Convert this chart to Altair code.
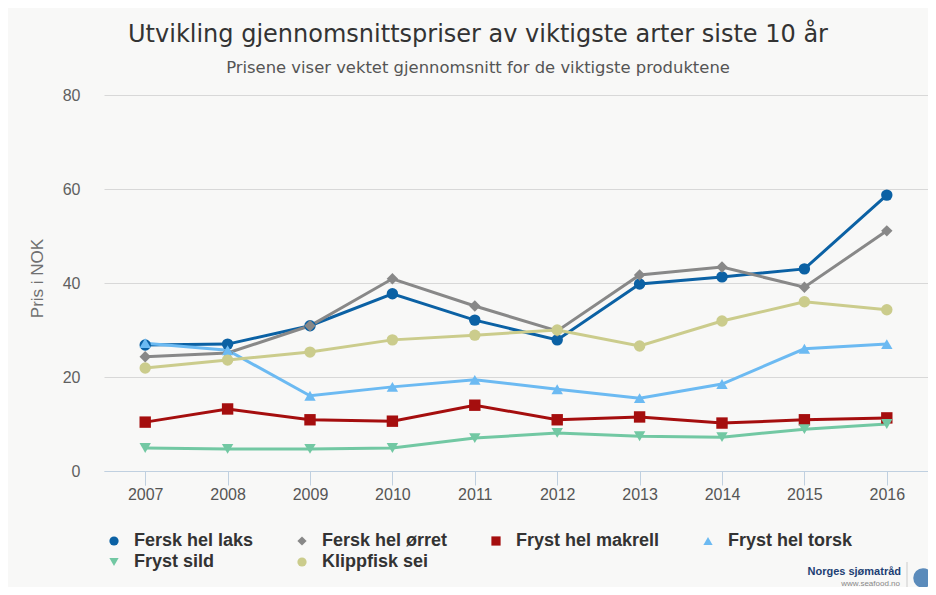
import altair as alt
import pandas as pd

years = ["2007", "2008", "2009", "2010", "2011", "2012", "2013", "2014", "2015", "2016"]
series_names = ["Fersk hel laks", "Fersk hel ørret", "Fryst hel makrell",
                "Fryst hel torsk", "Fryst sild", "Klippfisk sei"]
laks = [26.8, 27.0, 30.9, 37.7, 32.1, 27.9, 39.8, 41.3, 43.0, 58.7]
orret = [24.3, 25.1, 30.9, 40.9, 35.1, 29.8, 41.7, 43.4, 39.1, 51.1]
makrell = [10.4, 13.2, 10.9, 10.6, 14.0, 10.9, 11.5, 10.2, 10.9, 11.3]
torsk = [27.2, 25.7, 16.0, 17.9, 19.4, 17.4, 15.5, 18.5, 26.0, 27.0]
sild = [4.9, 4.7, 4.7, 4.9, 7.0, 8.1, 7.4, 7.2, 8.9, 10.0]
klippfisk = [21.9, 23.6, 25.3, 27.9, 28.9, 30.0, 26.6, 31.9, 36.0, 34.3]

colors = ["#0b61a4", "#888888", "#a50e0e", "#6cbaf2", "#72c8a3", "#cbcc8c"]
shapes = ["circle", "diamond", "square", "triangle-up", "triangle-down", "circle"]

all_vals = [laks, orret, makrell, torsk, sild, klippfisk]
rows = []
for i, (name, vals) in enumerate(zip(series_names, all_vals)):
    for y, v in zip(years, vals):
        rows.append({"year": y, "price": v, "series": name, "order": i})
df = pd.DataFrame(rows)

FONT = "Liberation Sans"
TFONT = "DejaVu Sans"

legend = alt.Legend(title=None, orient="none", legendX=1, legendY=437,
                    direction="horizontal", columns=4, columnPadding=39, rowPadding=3,
                    labelFont=FONT, labelFontSize=18, labelFontWeight="bold",
                    labelColor="#333333", symbolSize=85, labelOffset=11,
                    symbolStrokeWidth=0, symbolOpacity=1)

x_enc = alt.X("year:N", sort=years, title=None,
              scale=alt.Scale(type="point", padding=0.5),
              axis=alt.Axis(tickBand="extent", labelAngle=0, grid=False,
                            domainColor="#c0d0e0", tickColor="#c0d0e0",
                            tickSize=14, labelPadding=1, labelFontSize=16,
                            labelColor="#555555", labelFont=FONT))
y_enc = alt.Y("price:Q", title="Pris i NOK",
              scale=alt.Scale(domain=[0, 80]),
              axis=alt.Axis(values=[0, 20, 40, 60, 80], domain=False, ticks=False,
                            gridColor="#d8d8d8", labelPadding=24, labelFontSize=16,
                            labelColor="#606060", labelFont=FONT,
                            titleFont=FONT, titleFontSize=17, titleColor="#707070",
                            titleFontWeight="normal", titlePadding=16, titleY=183))
color_enc = alt.Color("series:N", sort=series_names,
                      scale=alt.Scale(domain=series_names, range=colors),
                      legend=legend)
shape_enc = alt.Shape("series:N", sort=series_names,
                      scale=alt.Scale(domain=series_names, range=shapes),
                      legend=legend)

base = alt.Chart(df)
lines = base.mark_line(strokeWidth=3).encode(
    x=x_enc, y=y_enc, color=color_enc,
    detail="series:N", order=alt.Order("order:Q"))
points = base.mark_point(filled=True, opacity=1, size=130).encode(
    x=x_enc, y=y_enc, color=color_enc, shape=shape_enc, order=alt.Order("order:Q"))

logo1 = alt.Chart(pd.DataFrame({"t": ["Norges sjømatråd"]})).mark_text(
    font=FONT, fontSize=11, fontWeight="bold", color="#1d3f73", align="right"
).encode(text="t:N", x=alt.value(797), y=alt.value(477))
logo2 = alt.Chart(pd.DataFrame({"t": ["www.seafood.no"]})).mark_text(
    font=FONT, fontSize=8, color="#888888", align="right"
).encode(text="t:N", x=alt.value(796), y=alt.value(489))
divider = alt.Chart(pd.DataFrame({"t": [0]})).mark_rule(color="#cccccc", strokeWidth=1).encode(
    x=alt.value(803), y=alt.value(467), y2=alt.value(493))
emblem = alt.Chart(pd.DataFrame({"t": [0]})).mark_point(
    filled=True, color="#3f78b0", opacity=0.85, shape="circle", size=380).encode(
    x=alt.value(819), y=alt.value(483))

chart = alt.layer(lines, points, logo1, logo2, divider, emblem).properties(
    width=824, height=376,
    autosize=alt.AutoSizeParams(type="none"),
    padding={"left": 96, "top": 87, "right": 0, "bottom": 116},
    background="#f8f8f7",
    title=alt.TitleParams(
        text="Utvikling gjennomsnittspriser av viktigste arter siste 10 år",
        subtitle="Prisene viser vektet gjennomsnitt for de viktigste produktene",
        font=TFONT, fontSize=24, fontWeight="normal", color="#333333",
        subtitleFont=TFONT, subtitleFontSize=16.4, subtitleColor="#555555",
        subtitlePadding=13, anchor="middle", dx=-38, offset=11)
).configure_view(stroke=None, fill="#f8f8f7")

chart.save("out.html", embed_options={"renderer": "svg", "actions": False})
